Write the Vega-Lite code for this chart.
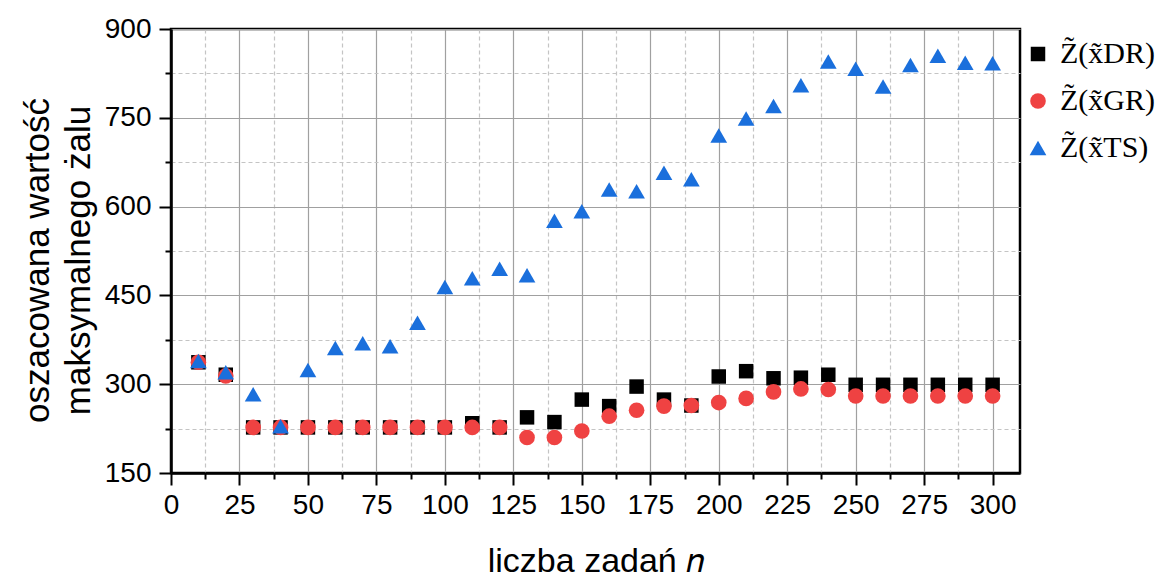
{
  "$schema": "https://vega.github.io/schema/vega-lite/v6.json",
  "width": 849,
  "height": 444,
  "autosize": "none",
  "padding": {"left": 171, "top": 29, "right": 145, "bottom": 106},
  "background": "white",
  "config": {
    "view": {"stroke": "black", "strokeWidth": 2.5},
    "font": "Liberation Sans",
    "legend": {
      "title": null,
      "orient": "none",
      "legendX": 852,
      "legendY": 10,
      "padding": 0,
      "rowPadding": 17,
      "labelOffset": 7,
      "labelFont": "Liberation Serif",
      "labelFontSize": 30,
      "labelLimit": 200,
      "labelColor": "black",
      "symbolOpacity": 1,
      "symbolStrokeWidth": 0
    }
  },
  "data": {
    "values": [
      {"n": 10, "DR": 337, "GR": 337, "TS": 339},
      {"n": 20, "DR": 316, "GR": 314, "TS": 320},
      {"n": 30, "DR": 227, "GR": 227, "TS": 283},
      {"n": 40, "DR": 227, "GR": 227, "TS": 229},
      {"n": 50, "DR": 227, "GR": 227, "TS": 324},
      {"n": 60, "DR": 227, "GR": 227, "TS": 361},
      {"n": 70, "DR": 227, "GR": 227, "TS": 369},
      {"n": 80, "DR": 227, "GR": 227, "TS": 364},
      {"n": 90, "DR": 227, "GR": 227, "TS": 404},
      {"n": 100, "DR": 227, "GR": 227, "TS": 464},
      {"n": 110, "DR": 234, "GR": 227, "TS": 479},
      {"n": 120, "DR": 227, "GR": 227, "TS": 495},
      {"n": 130, "DR": 244, "GR": 210, "TS": 484},
      {"n": 140, "DR": 236, "GR": 210, "TS": 576},
      {"n": 150, "DR": 274, "GR": 221, "TS": 592},
      {"n": 160, "DR": 263, "GR": 246, "TS": 629},
      {"n": 170, "DR": 296, "GR": 256, "TS": 626},
      {"n": 180, "DR": 274, "GR": 263, "TS": 657},
      {"n": 190, "DR": 264, "GR": 264, "TS": 646},
      {"n": 200, "DR": 313, "GR": 269, "TS": 720},
      {"n": 210, "DR": 322, "GR": 276, "TS": 749},
      {"n": 220, "DR": 310, "GR": 287, "TS": 770},
      {"n": 230, "DR": 311, "GR": 292, "TS": 805},
      {"n": 240, "DR": 316, "GR": 291, "TS": 845},
      {"n": 250, "DR": 299, "GR": 280, "TS": 833},
      {"n": 260, "DR": 299, "GR": 280, "TS": 803},
      {"n": 270, "DR": 299, "GR": 280, "TS": 839},
      {"n": 280, "DR": 299, "GR": 280, "TS": 855},
      {"n": 290, "DR": 299, "GR": 280, "TS": 843},
      {"n": 300, "DR": 299, "GR": 280, "TS": 842}
    ]
  },
  "transform": [{"fold": ["DR", "GR", "TS"], "as": ["series", "value"]}],
  "mark": {"type": "point", "filled": true, "opacity": 1, "strokeWidth": 0},
  "encoding": {
    "x": {
      "field": "n",
      "type": "quantitative",
      "scale": {"domain": [0, 310], "nice": false},
      "axis": {
        "values": [0, 12.5, 25, 37.5, 50, 62.5, 75, 87.5, 100, 112.5, 125, 137.5, 150, 162.5, 175, 187.5, 200, 212.5, 225, 237.5, 250, 262.5, 275, 287.5, 300],
        "labelExpr": "datum.value % 25 === 0 ? datum.label : ''",
        "labelOverlap": false,
        "labelFlush": false,
        "labelFontSize": 28,
        "labelColor": "black",
        "labelPadding": 6,
        "title": "liczba zadań 𝑛",
        "titleFontSize": 34,
        "titleFontWeight": "normal",
        "titleColor": "black",
        "titlePadding": 25,
        "domainColor": "black",
        "domainWidth": 2.5,
        "tickColor": "black",
        "tickWidth": 2,
        "tickSize": {"condition": {"test": "datum.value % 25 === 0", "value": 12}, "value": 6},
        "grid": true,
        "gridColor": {"condition": {"test": "datum.value % 25 === 0", "value": "#a0a0a0"}, "value": "#c4c4c4"},
        "gridDash": {"condition": {"test": "datum.value % 25 === 0", "value": []}, "value": [4, 3]},
        "gridWidth": 1.2
      }
    },
    "y": {
      "field": "value",
      "type": "quantitative",
      "scale": {"domain": [150, 900], "nice": false, "zero": false},
      "axis": {
        "values": [150, 225, 300, 375, 450, 525, 600, 675, 750, 825, 900],
        "labelExpr": "datum.value % 150 === 0 ? datum.label : ''",
        "labelOverlap": false,
        "labelFlush": false,
        "labelFontSize": 28,
        "labelColor": "black",
        "labelPadding": 8,
        "title": ["oszacowana wartość", "maksymalnego żalu"],
        "titleFontSize": 35,
        "titleFontWeight": "normal",
        "titleColor": "black",
        "titleLineHeight": 41,
        "titlePadding": 8,
        "titleY": 231,
        "domainColor": "black",
        "domainWidth": 2.5,
        "tickColor": "black",
        "tickWidth": 2,
        "tickSize": {"condition": {"test": "datum.value % 150 === 0", "value": 12}, "value": 6},
        "grid": true,
        "gridColor": {"condition": {"test": "datum.value % 150 === 0", "value": "#a0a0a0"}, "value": "#c4c4c4"},
        "gridDash": {"condition": {"test": "datum.value % 150 === 0", "value": []}, "value": [4, 3]},
        "gridWidth": 1.2
      }
    },
    "shape": {
      "field": "series",
      "type": "nominal",
      "scale": {"domain": ["DR", "GR", "TS"], "range": ["square", "circle", "triangle-up"]},
      "legend": {"labelExpr": "'Z̃(x̃' + datum.label + ')'"}
    },
    "color": {
      "field": "series",
      "type": "nominal",
      "scale": {"domain": ["DR", "GR", "TS"], "range": ["#000000", "#ef4242", "#1a6fdc"]},
      "legend": {"labelExpr": "'Z̃(x̃' + datum.label + ')'"}
    },
    "size": {
      "field": "series",
      "type": "nominal",
      "scale": {"domain": ["DR", "GR", "TS"], "range": [210, 280, 430]},
      "legend": {"labelExpr": "'Z̃(x̃' + datum.label + ')'"}
    }
  }
}
